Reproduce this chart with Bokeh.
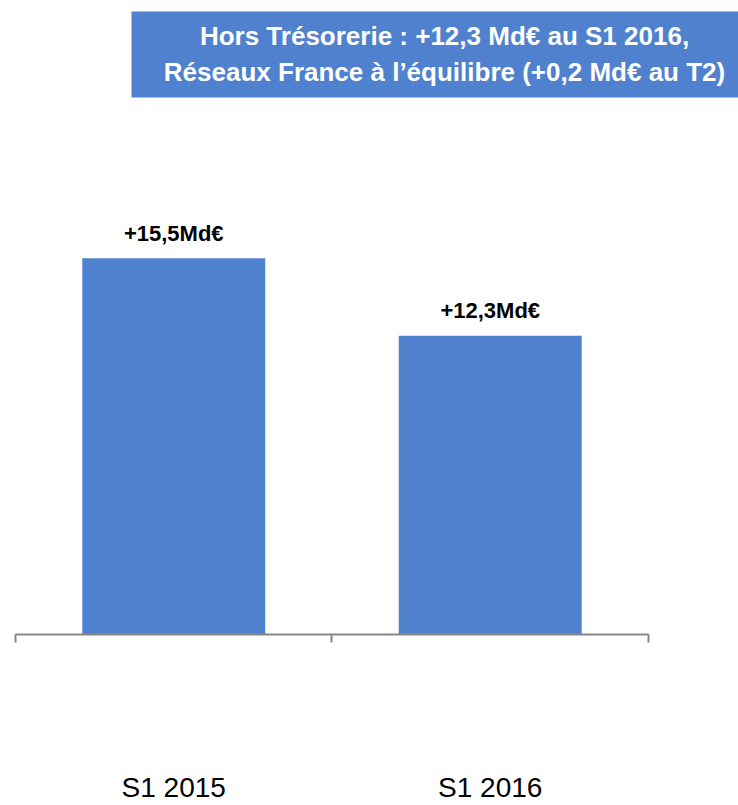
from bokeh.plotting import figure
from bokeh.models import (Range1d, LinearAxis, FixedTicker, BoxAnnotation, Label,
                          ColumnDataSource)
from bokeh.core.properties import value
from bokeh.embed import file_html
from bokeh.resources import INLINE

# ---- data ----
categories = ["S1 2015", "S1 2016"]
values = [15.5, 12.3]
value_labels = ["+15,5Md€", "+12,3Md€"]
title_text = "Hors Trésorerie : +12,3 Md€ au S1 2016,\nRéseaux France à l’équilibre (+0,2 Md€ au T2)"

BLUE = "#4F81CE"
GREY = "#868686"
FONT = "Liberation Sans"

n = len(categories)
centers = [i + 0.5 for i in range(n)]
edges = list(range(n + 1))

src = ColumnDataSource(dict(x=centers, top=values, lab=value_labels))

p = figure(width=738, height=805, output_backend="svg", toolbar_location=None,
           x_range=Range1d(-0.0474, 2.2844), y_range=Range1d(0, 26.11),
           x_axis_location=None, y_axis_location=None,
           min_border_left=0, min_border_right=0, min_border_top=0,
           min_border_bottom=170)
p.outline_line_color = None
p.xgrid.visible = False
p.ygrid.visible = False
p.background_fill_color = "white"
p.border_fill_color = "white"

# bars
p.vbar(x="x", top="top", bottom=0, width=0.578, source=src,
       fill_color=BLUE, line_color=None)

# value labels
p.text(x="x", y="top", text="lab", source=src, text_align="center",
       text_baseline="alphabetic", y_offset=-25,
       text_font=value(FONT), text_font_style="bold",
       text_font_size="22px", text_color="black")

# axis with boundary ticks (no labels)
edge_axis = LinearAxis(ticker=FixedTicker(ticks=edges), bounds=(0, n),
                       axis_line_color=GREY, axis_line_width=2,
                       major_tick_line_color=GREY, major_tick_line_width=2,
                       major_tick_out=8, major_tick_in=0,
                       minor_tick_line_color=None,
                       major_label_overrides={e: "" for e in edges},
                       major_label_text_font_size="1px",
                       major_label_standoff=0)
p.add_layout(edge_axis, "below")

# category label axis
cat_axis = LinearAxis(ticker=FixedTicker(ticks=centers),
                      major_label_overrides={c: name for c, name in zip(centers, categories)},
                      axis_line_color=None, major_tick_line_color=None,
                      major_tick_out=0, major_tick_in=0,
                      minor_tick_line_color=None,
                      major_label_standoff=129,
                      major_label_text_font=FONT,
                      major_label_text_font_size="28px",
                      major_label_text_color="black")
p.add_layout(cat_axis, "below")

# title box
box = BoxAnnotation(left=0.3665, right=2.2844, top=25.66, bottom=22.12,
                    fill_color=BLUE, fill_alpha=1.0, line_color=None)
p.add_layout(box)
title = Label(x=1.3555, y=23.89, text=title_text, text_align="center",
              text_baseline="middle", text_font=FONT, text_font_style="bold",
              text_font_size="26px", text_color="white", text_line_height=1.2)
p.add_layout(title)

open("out.html", "w").write(file_html(p, INLINE))
